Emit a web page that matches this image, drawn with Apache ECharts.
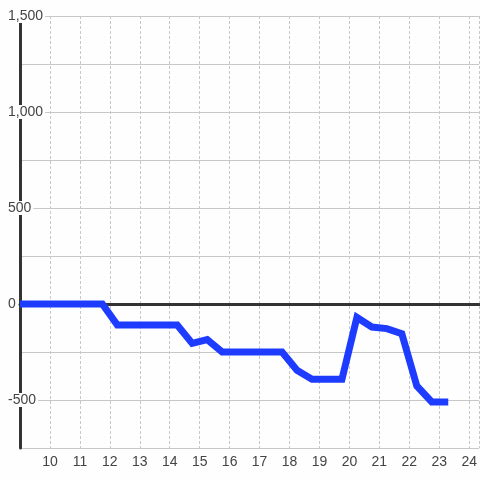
<!DOCTYPE html>
<html>
<head>
<meta charset="utf-8">
<script src="https://cdn.jsdelivr.net/npm/echarts@6/dist/echarts.min.js"></script>
<style>
html,body{margin:0;padding:0;background:#fdfefd;}
#chart{width:480px;height:480px;}
</style>
</head>
<body>
<div id="chart"></div>
<script>
// Data (hour of day vs value)
const hours = [9, 11.75, 12.25, 14.25, 14.75, 15.25, 15.75, 17.75, 18.25, 18.75, 19.75, 20.25, 20.75, 21.25, 21.75, 22.25, 22.75, 23.3];
const values = [0, 0, -110, -110, -205, -185, -250, -250, -345, -392, -392, -70, -120, -128, -155, -427, -510, -510];
const xTicks = [10, 11, 12, 13, 14, 15, 16, 17, 18, 19, 20, 21, 22, 23, 24];
const yLabelValues = [-500, 0, 500, 1000, 1500];

const bg = '#fdfefd';
const font = "'Liberation Sans', Arial, sans-serif";
const chart = echarts.init(document.getElementById('chart'));
chart.setOption({
  backgroundColor: bg,
  animation: false,
  grid: {left: 20, right: 0, top: 16, bottom: 32, containLabel: false},
  xAxis: [
    {
      type: 'value', position: 'top', min: 9, max: 24.3333, interval: 1,
      axisLine: {show: true, onZero: true, lineStyle: {color: '#333', width: 3}},
      axisTick: {show: false}, axisLabel: {show: false}, splitLine: {show: false}
    },
    {
      type: 'value', position: 'bottom', min: 9, max: 24.3333, interval: 1,
      axisLine: {show: false, onZero: false}, axisTick: {show: false},
      axisLabel: {
        color: '#444', fontSize: 14, fontFamily: font, margin: 7,
        showMinLabel: false, showMaxLabel: false,
        formatter: v => xTicks.indexOf(v) >= 0 ? String(v) : ''
      },
      splitLine: {show: true, lineStyle: {color: '#c8c8c8', width: 1, type: [3, 2]}}
    }
  ],
  yAxis: {
    type: 'value', min: -750, max: 1500, interval: 250,
    axisLine: {show: true, lineStyle: {color: '#333', width: 3}},
    axisTick: {show: false},
    axisLabel: {
      color: '#444', fontSize: 14, fontFamily: font, margin: 14, align: 'left',
      backgroundColor: bg, padding: [0, 2, 0, 2],
      formatter: v => yLabelValues.indexOf(v) >= 0 ? v.toLocaleString('en-US') : ''
    },
    splitLine: {show: true, lineStyle: {color: '#c8c8c8', width: 1}}
  },
  series: [{
    type: 'line', xAxisIndex: 1, symbol: 'none', z: 5,
    data: hours.map((h, i) => [h, values[i]]),
    lineStyle: {color: '#1e3cff', width: 7, join: 'miter', cap: 'butt'}
  }]
});
</script>
</body>
</html>
